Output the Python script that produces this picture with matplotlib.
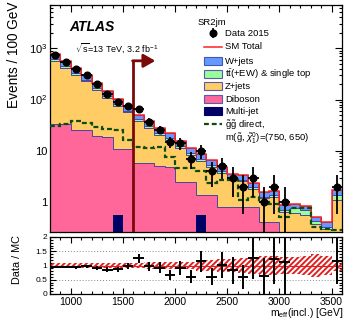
import numpy as np
import matplotlib
matplotlib.use("Agg")
import matplotlib.pyplot as plt
from matplotlib.patches import Rectangle
from matplotlib.lines import Line2D
from matplotlib.ticker import FixedLocator, MultipleLocator, FixedFormatter, LogLocator, NullFormatter

plt.rcParams['font.family'] = ['Liberation Sans', 'DejaVu Sans']
plt.rcParams['mathtext.fontset'] = 'custom'
plt.rcParams['mathtext.rm'] = 'Liberation Sans'
plt.rcParams['mathtext.it'] = 'Liberation Sans:italic'
plt.rcParams['hatch.linewidth'] = 1.4

# ---------------- data ----------------
bin_edges = np.arange(800, 3601, 100)
data = [733, 543, 386, 299, 197, 126, 88, 74, 64, 37, 26, 15, 14, 7, 10, 4, 5, 3, 2, 3, 1, 2, 1, 0, 0, 0, 0, 2]
multijet = [0, 0, 0, 0, 0, 0, 0.56, 0, 0, 0, 0, 0, 0, 0, 0.56, 0, 0, 0, 0, 0, 0, 0, 0, 0, 0, 0, 0, 0]
diboson = [34, 33, 26, 26, 19, 18.5, 10.5, 11, 5.7, 5.7, 5.0, 4.9, 2.5, 2.5, 0.84, 1.35, 0.8, 0.8, 0.8, 0.8, 0.41, 0.4, 0.2, 0.15, 0.12, 0.08, 0.06, 0.25]
zjets = [527, 388, 279, 200, 138, 89.5, 63.4, 45, 32, 22.3, 15.7, 11.3, 8.9, 5.85, 5.05, 3.5, 2.83, 1.85, 1.73, 0.99, 0.77, 0.85, 0.43, 0.45, 0.43, 0.29, 0.23, 0.85]
ttbar = [50, 37, 27, 20, 14, 10, 6.5, 5, 3.3, 2.5, 1.8, 1.4, 1.0, 0.75, 0.55, 0.45, 0.32, 0.25, 0.22, 0.16, 0.1, 0.1, 0.08, 0.15, 0.15, 0.05, 0.04, 0.3]
wjets = [153, 114, 83, 62, 43, 29, 20, 15, 10, 7.5, 5.5, 4.4, 3.1, 2.3, 1.7, 1.3, 0.95, 0.7, 0.65, 0.45, 0.3, 0.3, 0.17, 0.15, 0.15, 0.08, 0.07, 0.35]
signal = [30, 33, 38, 35, 28.5, 27, 25, 16, 12, 11.2, 12, 7.4, 4.7, 4.6, 4.1, 2.3, 2.7, 2.7, 1.1, 1.27, 1.0, 0.93, 0.52, 0.75, 0.75, 0.33, 0.3, 0.28]
mc_rel_unc = [0.09, 0.08, 0.08, 0.09, 0.09, 0.1, 0.1, 0.1, 0.1, 0.11, 0.11, 0.12, 0.13, 0.14, 0.18, 0.2, 0.22, 0.22, 0.25, 0.3, 0.35, 0.35, 0.3, 0.3, 0.35, 0.4, 0.35, 0.2]
cut_value = 1600
cut_arrow_end = 1810
cut_arrow_height = 570

labels = ['Multi-jet', 'Diboson', 'Z+jets', r't$\bar{\rm t}$(+EW) & single top', 'W+jets']
colors = ['#000066', '#ff6699', '#ffcc66', '#99ff99', '#6699ff']

# ---------------- figure ----------------
W, H = 349, 323
fig = plt.figure(figsize=(W / 100, H / 100), dpi=100)

def fx(x):
    return x / W

def fy(y):
    return 1 - y / H

ax = fig.add_axes([fx(50), fy(232), (342 - 50) / W, (232 - 5) / H])
rax = fig.add_axes([fx(50), fy(294), (342 - 50) / W, (294 - 237) / H])

edges = bin_edges
centers = 0.5 * (edges[:-1] + edges[1:])
halfw = 0.5 * np.diff(edges)
comps = [np.array(multijet), np.array(diboson), np.array(zjets), np.array(ttbar), np.array(wjets)]
base = np.full(len(centers), 1e-3)
edge_col = '#4646a0'
for vals, col in zip(comps, colors):
    top = base + vals
    ax.stairs(top, edges, baseline=base, fill=True, color=col, zorder=2)
    base = top
cum = np.full(len(centers), 1e-3)
for i, vals in enumerate(comps):
    cum = cum + vals
    if i >= 1:
        ax.stairs(cum, edges, baseline=None, color=edge_col, lw=0.7, zorder=3)
total = cum
ax.stairs(total, edges, baseline=None, color='#ff2020', lw=1.1, zorder=4)

ax.stairs(np.array(signal), edges, baseline=None, color='#0b4d0b', lw=1.6,
          linestyle=(0, (2.2, 1.3)), zorder=5)

d = np.array(data, dtype=float)
mask = d > 0
derr = np.sqrt(d)
ax.errorbar(centers[mask], d[mask], xerr=halfw[mask], yerr=derr[mask], fmt='o', color='black',
            ms=4.8, lw=1.3, capsize=0, zorder=7)

# cut arrow
ax.plot([cut_value, cut_value], [0.01, cut_arrow_height], color='#7a0a0a', lw=2.0, zorder=6)
ax.annotate('', xy=(cut_arrow_end, cut_arrow_height), xytext=(cut_value - 8, cut_arrow_height),
            arrowprops=dict(arrowstyle='-|>,head_length=0.7,head_width=0.4', color='#7a0a0a', lw=2.0,
                            shrinkA=0, shrinkB=0), zorder=6)

ax.set_yscale('log')
ax.set_xlim(800, 3600)
ax.set_ylim(0.26, 7000)
ax.yaxis.set_major_locator(FixedLocator([1, 10, 100, 1000]))
ax.yaxis.set_major_formatter(FixedFormatter(['1', '10', r'$10^2$', r'$10^3$']))
ax.yaxis.set_minor_locator(LogLocator(base=10, subs=np.arange(2, 10)))
ax.yaxis.set_minor_formatter(NullFormatter())
ax.xaxis.set_major_locator(MultipleLocator(500))
ax.xaxis.set_minor_locator(MultipleLocator(100))
ax.tick_params(axis='x', labelbottom=False)

for a in (ax, rax):
    a.tick_params(which='both', direction='in', top=True, right=True, width=0.8)
    a.tick_params(which='major', length=5)
    a.tick_params(which='minor', length=2.5)
    for s in a.spines.values():
        s.set_linewidth(0.9)
ax.tick_params(axis='y', labelsize=8, pad=2)

# ratio panel
ratio = np.where(mask, d / total, np.nan)
rerr = np.where(mask, derr / total, np.nan)
unc = np.array(mc_rel_unc)
rax.fill_between(edges, np.append(1 - unc, 1 - unc[-1]), np.append(1 + unc, 1 + unc[-1]), step='post',
                 facecolor='none', edgecolor='#e02020', hatch='//////', linewidth=0, zorder=2)
rax.axhline(1, color='#e02020', lw=0.8, zorder=2)
for yv in (0.5, 1.5):
    rax.axhline(yv, color='#888888', lw=0.7, ls=(0, (1, 2)), zorder=1)
rax.errorbar(centers[mask], ratio[mask], xerr=halfw[mask], yerr=rerr[mask], fmt='none', ecolor='black',
             lw=1.4, capsize=0, zorder=5)
rax.set_xlim(800, 3600)
rax.set_ylim(0, 2)
rax.yaxis.set_major_locator(FixedLocator([0, 0.5, 1, 1.5, 2]))
rax.yaxis.set_major_formatter(FixedFormatter(['0', '0.5', '1', '1.5', '2']))
rax.yaxis.set_minor_locator(MultipleLocator(0.1))
rax.xaxis.set_major_locator(MultipleLocator(500))
rax.xaxis.set_minor_locator(MultipleLocator(100))
rax.tick_params(axis='y', labelsize=6, pad=2)
rax.tick_params(axis='x', labelsize=7.5, pad=2)
rax.tick_params(which='major', length=4)
rax.tick_params(which='minor', length=2)

# axis labels
fig.text(fx(14), fy(2), 'Events / 100 GeV', rotation=90, ha='center', va='top', fontsize=9.8)
fig.text(fx(17), fy(260), 'Data / MC', rotation=90, ha='center', va='center', fontsize=7.8)
fig.text(fx(343), fy(313), r'm$_{\rm eff}$(incl.) [GeV]', ha='right', va='center', fontsize=7.5)

# ATLAS label
fig.text(fx(69), fy(27), 'ATLAS', fontsize=10, fontweight='bold', fontstyle='italic', ha='left', va='center')
fig.text(fx(75), fy(48), r'$\sqrt{\rm s}$=13 TeV, 3.2 fb$^{-1}$', fontsize=6.5, ha='left', va='center')

# legend
lfs = 6.8
fig.text(fx(198), fy(22.7), 'SR2jm', fontsize=lfs, ha='left', va='center')
bx0, bx1 = 204.3, 221.7
tx = 225
yy = 33.3
fig.add_artist(Line2D([fx(213), fx(213)], [fy(yy - 4), fy(yy + 4)], color='black', lw=1.3))
fig.add_artist(Line2D([fx(213)], [fy(yy)], marker='o', color='black', ms=4.8))
fig.text(fx(tx), fy(yy), 'Data 2015', fontsize=lfs, ha='left', va='center')
yy = 46.7
fig.add_artist(Line2D([fx(bx0), fx(bx1)], [fy(yy), fy(yy)], color='#ff2020', lw=1.1))
fig.text(fx(tx), fy(yy), 'SM Total', fontsize=lfs, ha='left', va='center')
leg_rows = [(61.0, 4), (73.7, 3), (86.3, 2), (99.0, 1), (111.2, 0)]
for yy, idx in leg_rows:
    ec = '#3b5bb0' if idx == 4 else ('#000066' if idx == 0 else '#5a5ab0')
    fig.add_artist(Rectangle((fx(bx0), fy(yy + 3.8)), (bx1 - bx0) / W, 7.6 / H, facecolor=colors[idx],
                             edgecolor=ec, lw=0.8, transform=fig.transFigure))
    fig.text(fx(tx), fy(yy), labels[idx], fontsize=lfs, ha='left', va='center')
yy = 124.0
fig.add_artist(Line2D([fx(bx0), fx(bx1)], [fy(yy), fy(yy)], color='#0b4d0b', lw=1.6, linestyle=(0, (2.2, 1.3))))
fig.text(fx(tx), fy(yy + 1), r'$\tilde{\rm g}\tilde{\rm g}$ direct,', fontsize=lfs, ha='left', va='center')
fig.text(fx(tx), fy(138.5), r'm($\tilde{\rm g}$, $\tilde{\chi}^{0}_{1}$)=(750, 650)', fontsize=lfs,
         ha='left', va='center')

fig.savefig('out.png', dpi=100)
